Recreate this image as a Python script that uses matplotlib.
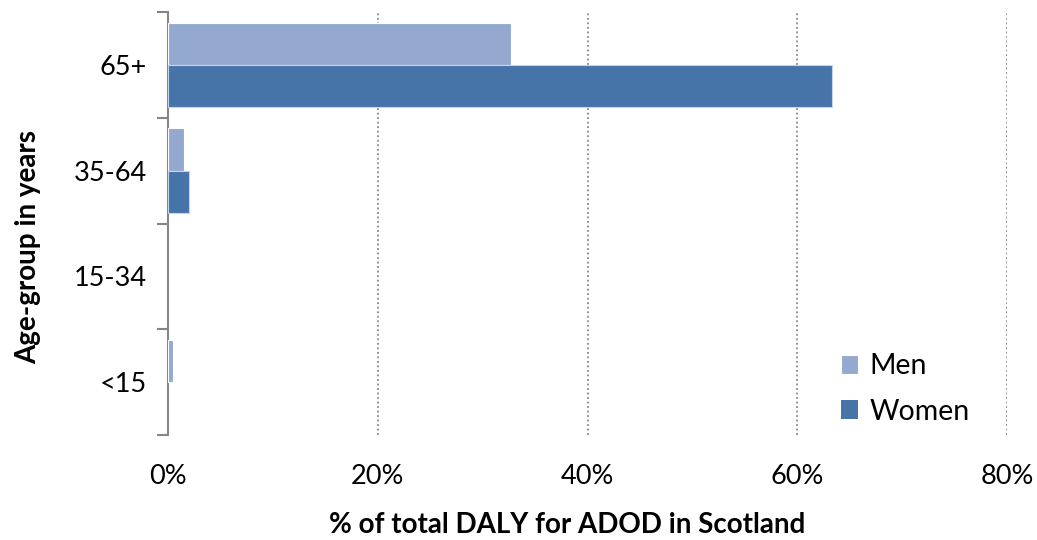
import matplotlib.pyplot as plt
from matplotlib.ticker import FixedLocator, PercentFormatter

plt.rcParams['font.family'] = ['Lato', 'DejaVu Sans']

age_groups = ["<15", "15-34", "35-64", "65+"]
men = [0.45, 0.0, 1.5, 32.7]
women = [0.0, 0.0, 2.0, 63.3]
x_ticks = [0, 20, 40, 60, 80]

men_color = "#95A9D0"
women_color = "#4673A8"

fig = plt.figure(figsize=(10.37, 5.4), dpi=100)
ax = fig.add_axes([168 / 1037, 1 - 435 / 540, (1007 - 168) / 1037, (435 - 12) / 540])

pos = list(range(len(age_groups)))
ax.barh([p + 0.2 for p in pos], men, height=0.4, color=men_color,
        edgecolor="white", linewidth=[0.8 if v > 0 else 0 for v in men],
        label="Men", zorder=3)
ax.barh([p - 0.2 for p in pos], women, height=0.4, color=women_color,
        edgecolor="#C8D4E6", linewidth=[0.8 if v > 0 else 0 for v in women],
        label="Women", zorder=3)

ax.set_xlim(0, 80)
ax.set_ylim(-0.5, len(age_groups) - 0.5)

ax.set_xticks(x_ticks)
ax.xaxis.set_major_formatter(PercentFormatter(decimals=0))
ax.tick_params(axis="x", length=0, pad=21, labelsize=19.5)
for x in x_ticks[1:]:
    ax.axvline(x, color="#888888", linestyle=(0, (1, 1.5)), linewidth=1.3, zorder=1)

ax.set_yticks(pos)
ax.set_yticklabels(age_groups)
ax.tick_params(axis="y", which="major", length=0, pad=15, labelsize=19.5)
ax.yaxis.set_minor_locator(FixedLocator([p - 0.5 for p in range(len(age_groups) + 1)]))
ax.tick_params(axis="y", which="minor", length=8, width=1.5, color="#868686")

for s in ["top", "right", "bottom"]:
    ax.spines[s].set_visible(False)
ax.spines["left"].set_color("#868686")
ax.spines["left"].set_linewidth(1.5)

fig.text(567 / 1037, 1 - 525 / 540, "% of total DALY for ADOD in Scotland",
         ha="center", va="center", fontsize=20, fontweight="bold")
fig.text(28 / 1037, 1 - 247 / 540, "Age-group in years", rotation=90,
         ha="center", va="center", fontsize=20, fontweight="bold")

ax.legend(loc="center left", bbox_to_anchor=(815 / 1037, 1 - 389 / 540),
          bbox_transform=fig.transFigure, frameon=False,
          fontsize=20.5, handlelength=0.62, handleheight=0.62, handletextpad=0.38,
          labelspacing=0.68)

fig.savefig("out.png", dpi=100)
